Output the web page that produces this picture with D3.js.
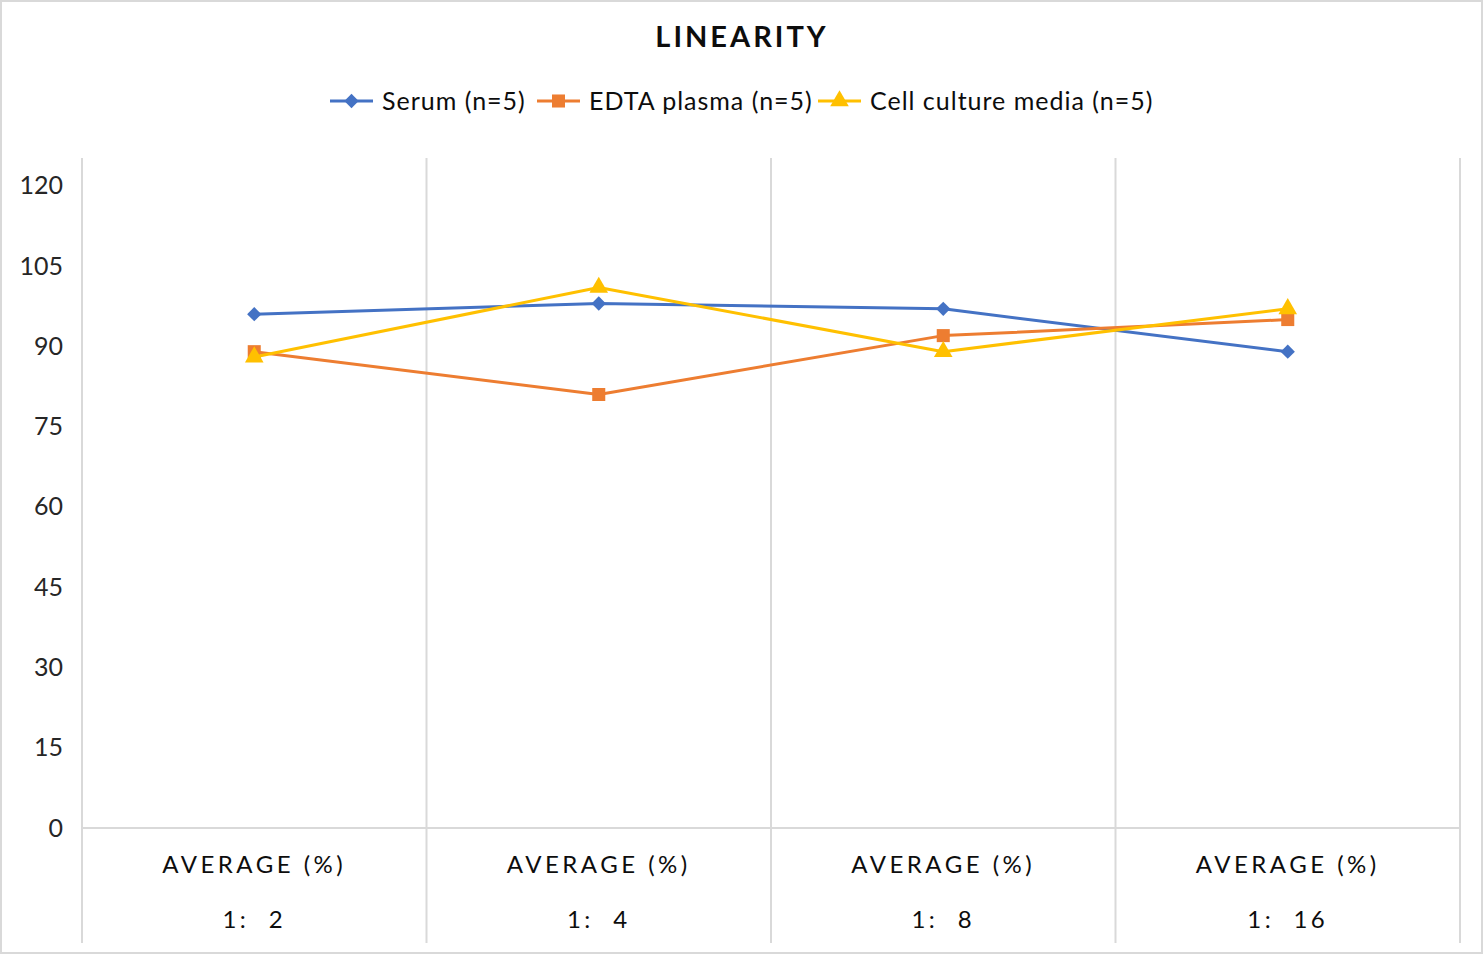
<!DOCTYPE html>
<html>
<head>
<meta charset="utf-8">
<script src="https://cdn.jsdelivr.net/npm/d3@7"></script>
<style>
  body { margin: 0; background: #fff; }
  svg { display: block; font-family: Lato, "Open Sans", sans-serif; }
</style>
</head>
<body>
<div id="chart"></div>
<script>
// data
var categories = ["1: 2", "1: 4", "1: 8", "1: 16"];
var groupLabel = "AVERAGE (%)";
var seriesNames = ["Serum (n=5)", "EDTA plasma (n=5)", "Cell culture media (n=5)"];
var serum = [96, 98, 97, 89];
var edta = [89, 81, 92, 95];
var cellMedia = [88, 101, 89, 97];
var yTicks = [0, 15, 30, 45, 60, 75, 90, 105, 120];

var colors = ["#4472C4", "#ED7D31", "#FFC000"];
var symbols = [d3.symbolDiamond2, d3.symbolSquare, d3.symbolTriangle];
var symSizes = [130, 170, 150];

var W = 1484, H = 956;
var margin = { top: 159, right: 24, bottom: 128, left: 82 },
    width = W - margin.left - margin.right,
    height = 828 - margin.top;

var svg = d3.select("#chart")
    .append("svg")
    .attr("width", W)
    .attr("height", H);

// outer frame
svg.append("rect")
    .attr("x", 1).attr("y", 1)
    .attr("width", W - 3).attr("height", H - 4)
    .attr("fill", "#fff")
    .attr("stroke", "#d9d9d9")
    .attr("stroke-width", 2);

svg.append("text")
    .attr("x", 742)
    .attr("y", 47)
    .attr("text-anchor", "middle")
    .style("font-size", "29px")
    .style("font-weight", "bold")
    .style("letter-spacing", "3px")
    .attr("fill", "#0d0d0d")
    .text("LINEARITY");

var g = svg.append("g")
    .attr("transform", "translate(" + margin.left + "," + margin.top + ")");

var x = d3.scaleBand()
    .domain(categories)
    .range([0, width]);

var y = d3.scaleLinear()
    .domain([0, 125])
    .range([height, 0]);

// category divider lines
var edges = categories.map(function (c) { return x(c); }).concat([width]);
g.selectAll(".divider")
    .data(edges)
    .enter()
    .append("line")
    .attr("class", "divider")
    .attr("x1", function (d) { return d; })
    .attr("x2", function (d) { return d; })
    .attr("y1", -1)
    .attr("y2", 943 - margin.top)
    .attr("stroke", "#d9d9d9")
    .attr("stroke-width", 2);

// zero line
g.append("line")
    .attr("x1", 0).attr("x2", width)
    .attr("y1", y(0)).attr("y2", y(0))
    .attr("stroke", "#d9d9d9")
    .attr("stroke-width", 2);

// y axis labels
var yAxis = g.append("g")
    .call(d3.axisLeft(y).tickValues(yTicks).tickSize(0).tickPadding(19));
yAxis.select(".domain").remove();
yAxis.selectAll("text")
    .attr("font-family", "Lato, 'Open Sans', sans-serif")
    .style("font-size", "25px")
    .attr("fill", "#262626");

// x labels (two levels)
var xl = g.selectAll(".xlab")
    .data(categories)
    .enter()
    .append("g")
    .attr("transform", function (d) { return "translate(" + (x(d) + x.bandwidth() / 2) + ",0)"; });
xl.append("text")
    .attr("y", 873 - margin.top)
    .attr("text-anchor", "middle")
    .style("font-size", "24px")
    .style("letter-spacing", "3.5px")
    .attr("fill", "#0d0d0d")
    .text(groupLabel);
xl.append("text")
    .attr("y", 928 - margin.top)
    .attr("text-anchor", "middle")
    .style("font-size", "24px")
    .style("letter-spacing", "3.5px")
    .style("white-space", "pre")
    .attr("fill", "#0d0d0d")
    .text(function (d) { return d.replace(" ", "  "); });

// series
var allSeries = [serum, edta, cellMedia];
var line = d3.line()
    .x(function (d, i) { return x(categories[i]) + x.bandwidth() / 2; })
    .y(function (d) { return y(d); });

allSeries.forEach(function (vals, s) {
    g.append("path")
        .datum(vals)
        .attr("fill", "none")
        .attr("stroke", colors[s])
        .attr("stroke-width", 3)
        .attr("stroke-linejoin", "round")
        .attr("d", line);
    g.selectAll(".m" + s)
        .data(vals)
        .enter()
        .append("path")
        .attr("transform", function (d, i) {
            return "translate(" + (x(categories[i]) + x.bandwidth() / 2) + "," + y(d) + ")";
        })
        .attr("d", d3.symbol().type(symbols[s]).size(symSizes[s]))
        .attr("fill", colors[s]);
});

// legend
var legendX = [330, 537, 818];
var leg = svg.selectAll(".legend")
    .data(seriesNames)
    .enter()
    .append("g")
    .attr("transform", function (d, i) { return "translate(" + legendX[i] + ",101)"; });
leg.append("line")
    .attr("x1", 0).attr("x2", 43)
    .attr("stroke", function (d, i) { return colors[i]; })
    .attr("stroke-width", 3);
leg.append("path")
    .attr("transform", "translate(21.5,0)")
    .attr("d", function (d, i) { return d3.symbol().type(symbols[i]).size(symSizes[i])(); })
    .attr("fill", function (d, i) { return colors[i]; });
leg.append("text")
    .attr("x", 52)
    .attr("y", 9)
    .style("font-size", "25px")
    .style("letter-spacing", "1px")
    .attr("fill", "#0d0d0d")
    .text(function (d) { return d; });
</script>
</body>
</html>
